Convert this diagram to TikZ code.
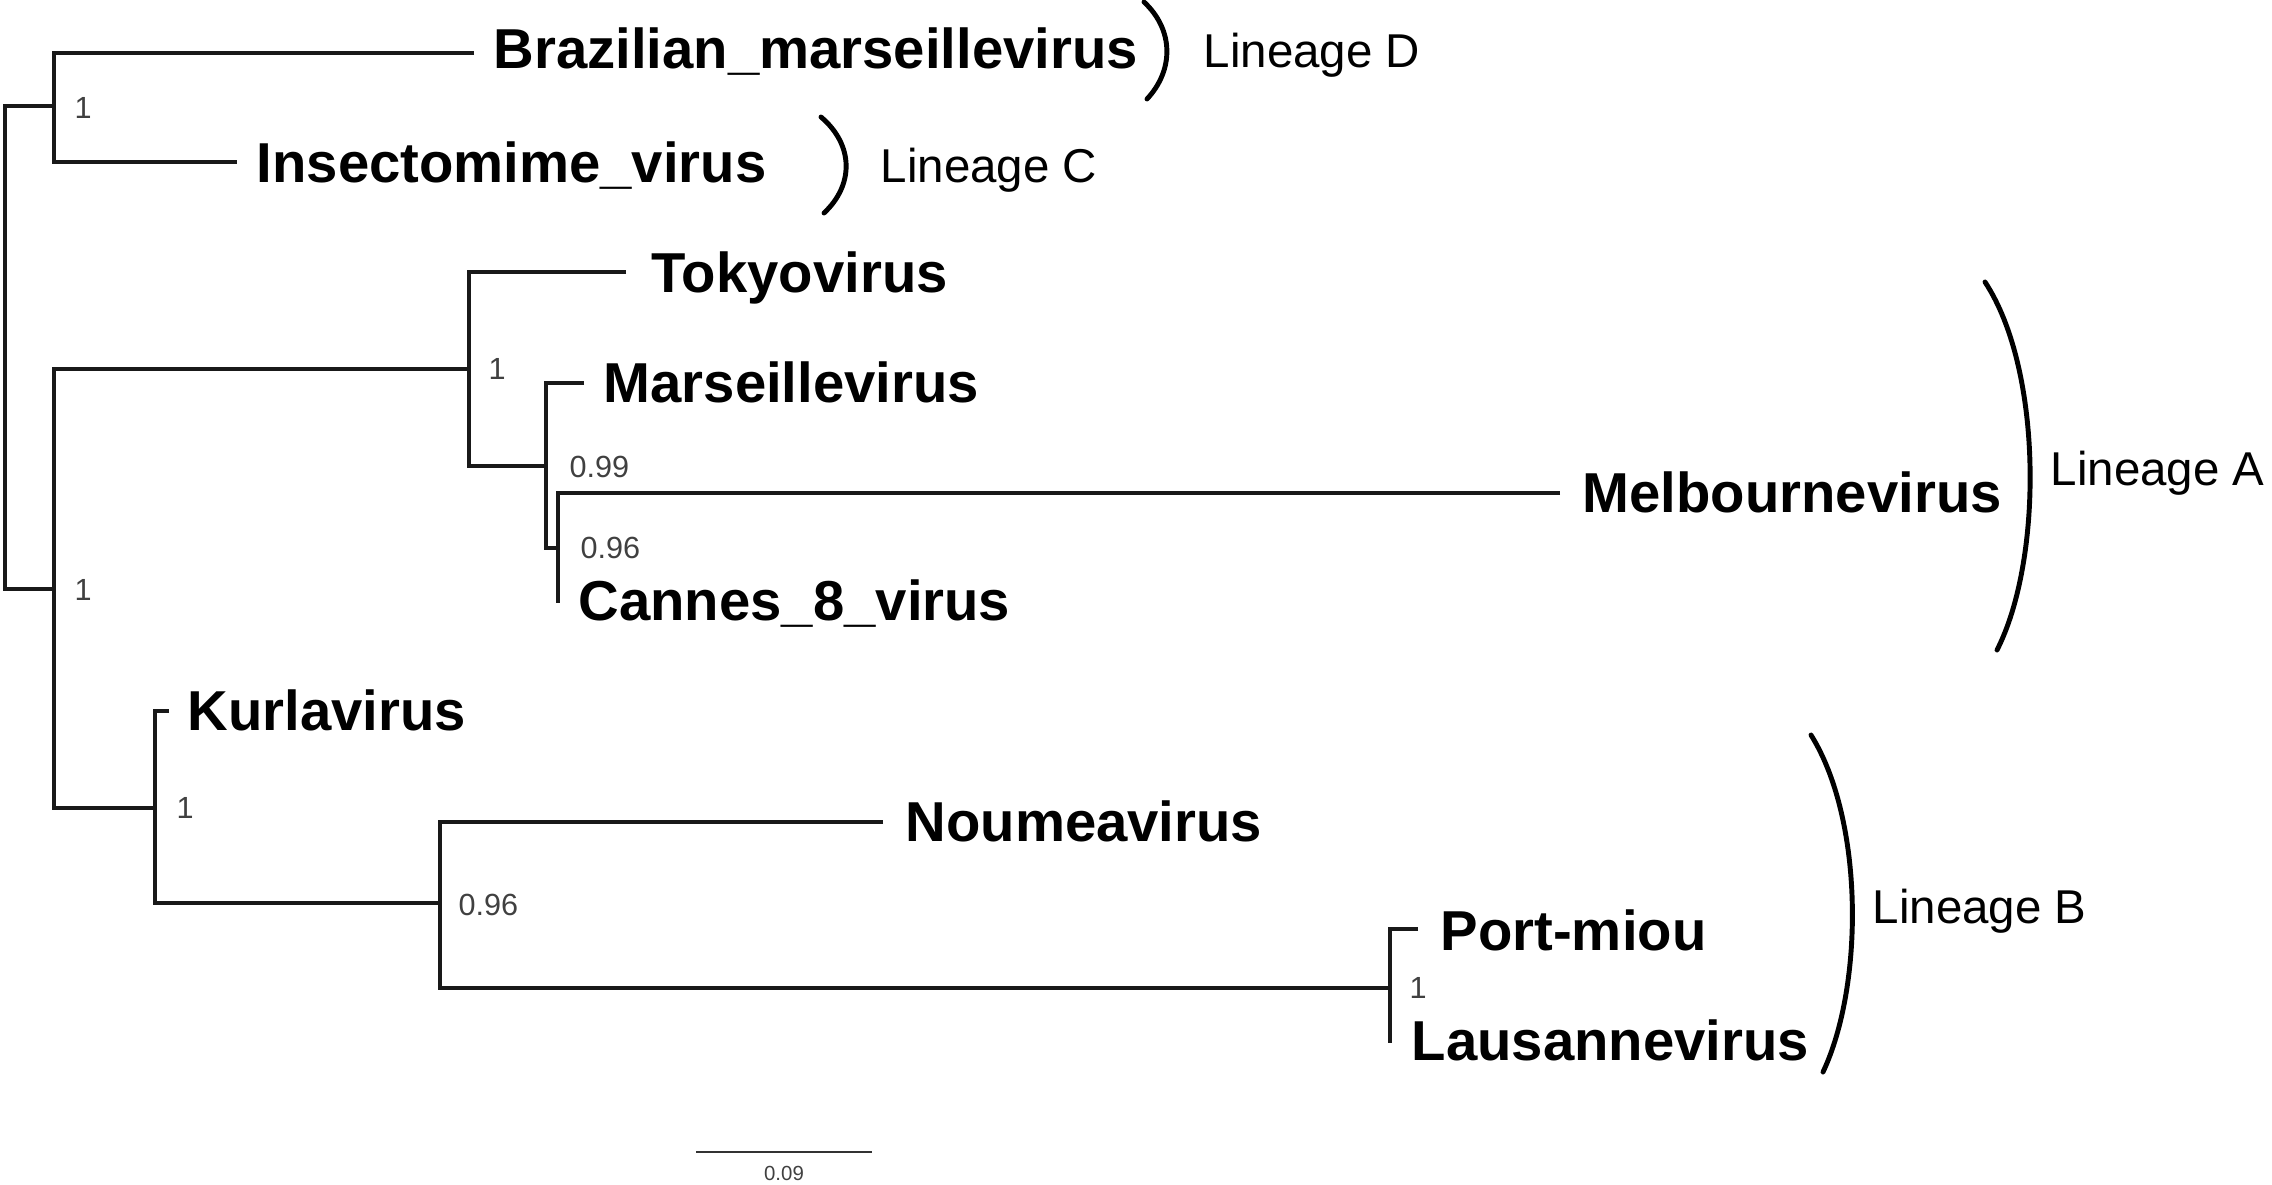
\documentclass[tikz,border=0pt]{standalone}
\usepackage{fontspec}
\setmainfont{Liberation Sans}
\begin{document}
\begin{tikzpicture}[x=0.01cm,y=-0.01cm,
  branch/.style={line width=1.05pt, draw=black!90},
  taxon/.style={anchor=base west, inner sep=0pt, font=\fontsize{16}{19}\selectfont\bfseries},
  supp/.style={anchor=base west, inner sep=0pt, text=black!75, font=\fontsize{8.7}{10}\selectfont},
  lineage/.style={anchor=base west, inner sep=0pt, font=\fontsize{13.5}{16}\selectfont},
  bracket/.style={line width=1.4pt, line cap=round}]
\useasboundingbox (0,0) rectangle (2272,1184);

% internal nodes
\coordinate (root) at (5,347);
\coordinate (n1) at (54,106);
\coordinate (n2) at (54,589);
\coordinate (n3) at (469,369);
\coordinate (n4) at (546,466);
\coordinate (n5) at (558,548);
\coordinate (n6) at (155,808);
\coordinate (n7) at (440,903);
\coordinate (n8) at (1390,988);
% tips
\coordinate (tBraz) at (474,53);
\coordinate (tIns) at (237,162);
\coordinate (tTok) at (626,272);
\coordinate (tMar) at (584,383);
\coordinate (tMel) at (1560,493);
\coordinate (tCan) at (558,603);
\coordinate (tKur) at (169,711);
\coordinate (tNou) at (883,822);
\coordinate (tPor) at (1418,929);
\coordinate (tLau) at (1390,1043);

% branches
\draw[branch] (n1) -| (root) |- (n2);
\draw[branch] (tBraz) -| (n1) |- (tIns);
\draw[branch] (n3) -| (n2) |- (n6);
\draw[branch] (tTok) -| (n3) |- (n4);
\draw[branch] (tMar) -| (n4) |- (n5);
\draw[branch] (tMel) -| (n5) |- (tCan);
\draw[branch] (tKur) -| (n6) |- (n7);
\draw[branch] (tNou) -| (n7) |- (n8);
\draw[branch] (tPor) -| (n8) |- (tLau);

% taxon labels
\node[taxon] (lBraz) at (493,68) {Brazilian\_marseillevirus};
\node[taxon] (lIns) at (256,182) {Insectomime\_virus};
\node[taxon] (lTok) at (651,292) {Tokyovirus};
\node[taxon] (lMar) at (603,402) {Marseillevirus};
\node[taxon] (lMel) at (1582,512) {Melbournevirus};
\node[taxon] (lCan) at (578,620) {Cannes\_8\_virus};
\node[taxon] (lKur) at (187,730) {Kurlavirus};
\node[taxon] (lNou) at (905,841) {Noumeavirus};
\node[taxon] (lPor) at (1440,950) {Port-miou};
\node[taxon] (lLau) at (1411,1060) {Lausannevirus};

% support values
\node[supp] (s1) at (74,118) {1};
\node[supp] (s2) at (74,600) {1};
\node[supp] (s3) at (488,379) {1};
\node[supp] (s4) at (569,477) {0.99};
\node[supp] (s5) at (580,558) {0.96};
\node[supp] (s6) at (176,818) {1};
\node[supp] (s7) at (458,915) {0.96};
\node[supp] (s8) at (1409,998) {1};

% lineage brackets
\coordinate (dT) at (1144,2);  \coordinate (dB) at (1147,99);
\coordinate (cT) at (821,117); \coordinate (cB) at (824,213);
\coordinate (aT) at (1985,282); \coordinate (aB) at (1997,650);
\coordinate (bT) at (1811,735); \coordinate (bB) at (1823,1072);
\draw[bracket] (dT) .. controls (1174,30) and (1174,70) .. (dB);
\draw[bracket] (cT) .. controls (854,145) and (854,185) .. (cB);
\draw[bracket] (aT) .. controls (2043,370) and (2043,560) .. (aB);
\draw[bracket] (bT) .. controls (1864,820) and (1864,985) .. (bB);

\node[lineage] (LD) at (1203,67) {Lineage D};
\node[lineage] (LC) at (880,182) {Lineage C};
\node[lineage] (LA) at (2050,485) {Lineage A};
\node[lineage] (LB) at (1872,923) {Lineage B};

% scale bar
\coordinate (sb1) at (696,1152);
\coordinate (sb2) at (872,1152);
\draw[line width=0.8pt, draw=black!80] (sb1) -- (sb2);
\node[anchor=base, inner sep=0pt, text=black!75, font=\fontsize{5.8}{7}\selectfont] (sbl) at (784,1180) {0.09};
\end{tikzpicture}
\end{document}
